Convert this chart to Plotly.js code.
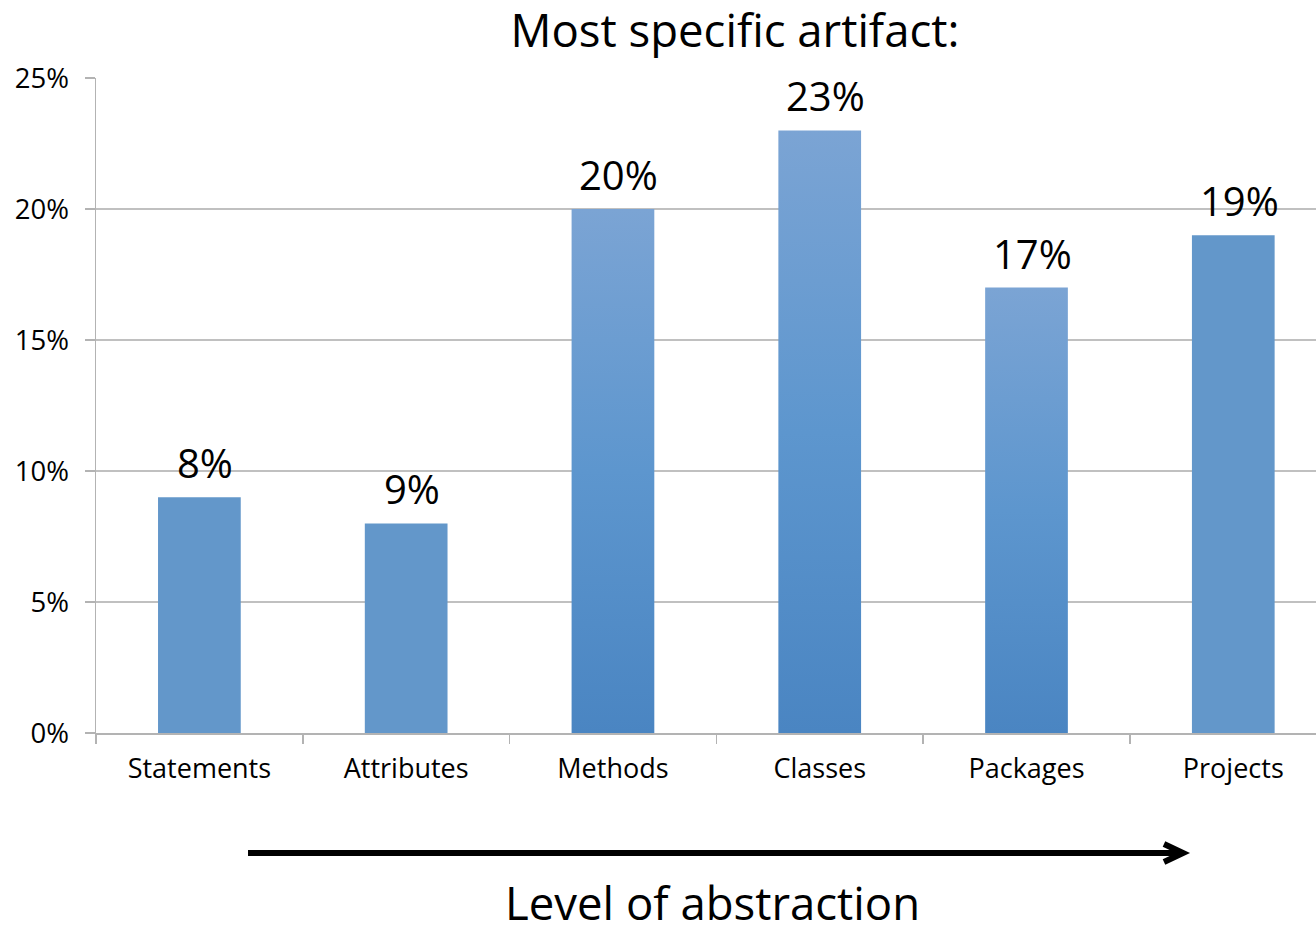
<!DOCTYPE html>
<html>
<head>
<meta charset="utf-8">
<script src="https://cdn.plot.ly/plotly-3.0.1.min.js"></script>
<style>html,body{margin:0;padding:0;background:#fff;}#chart{width:1316px;height:925px;}</style>
</head>
<body>
<div id="chart"></div>
<script>
// Data
const categories = ["Statements", "Attributes", "Methods", "Classes", "Packages", "Projects"];
const barValues = [9, 8, 20, 23, 17, 19];              // bar heights as drawn (%)
const barLabels = ["8%", "9%", "20%", "23%", "17%", "19%"]; // labels as printed
const gradientBars = [false, false, true, true, true, false];
const yTicks = [0, 5, 10, 15, 20, 25];

const FONT = "Open Sans, Noto Sans, sans-serif";
const flatColor = "#6397ca";

const trace = {
  type: "bar",
  x: categories,
  y: barValues,
  width: 0.4,
  marker: {color: flatColor, line: {width: 0}},
  hoverinfo: "skip"
};

const annotations = categories.map((c, i) => ({
  x: c, y: barValues[i], xref: "x", yref: "y",
  text: barLabels[i], showarrow: false,
  yanchor: "bottom", yshift: 5, xshift: 6,
  font: {family: FONT, size: 40, color: "#000"}
}));
annotations.push({
  xref: "paper", yref: "paper", x: 0.505, y: -0.258,
  text: "Level of abstraction", showarrow: false,
  xanchor: "center", yanchor: "middle",
  font: {family: FONT, size: 45.5, color: "#000"}
});

const shapes = [
  {type: "line", xref: "paper", yref: "paper", x0: 0.1246, x1: 0.8885, y0: -0.1832, y1: -0.1832,
   line: {color: "#000", width: 6}},
  {type: "path", xref: "paper", yref: "paper",
   path: "M 0.8754,-0.1695 L 0.891,-0.1832 L 0.8754,-0.197",
   line: {color: "#000", width: 6}}
];

const layout = {
  width: 1316, height: 925,
  margin: {l: 96, r: 0, t: 78, b: 192, pad: 0},
  paper_bgcolor: "#fff", plot_bgcolor: "#fff",
  showlegend: false,
  font: {family: FONT, color: "#000"},
  title: {
    text: "Most specific artifact:",
    xref: "container", yref: "container", x: 0.5585, y: 0.966,
    xanchor: "center", yanchor: "middle",
    font: {family: FONT, size: 45.5, color: "#000"}
  },
  xaxis: {
    type: "category",
    range: [-0.5, 5.4],
    tickson: "boundaries",
    ticks: "outside", ticklen: 9, tickwidth: 1.5, tickcolor: "#b3b3b3",
    showline: true, linecolor: "#b3b3b3", linewidth: 1.5,
    showgrid: false, zeroline: false,
    tickfont: {family: FONT, size: 27, color: "#000"},
    ticklabelstandoff: 11,
    fixedrange: true
  },
  yaxis: {
    range: [0, 25],
    tickvals: yTicks,
    ticktext: yTicks.map(v => v + "%"),
    ticks: "outside", ticklen: 10, tickwidth: 1.5, tickcolor: "#b3b3b3",
    showline: true, linecolor: "#b3b3b3", linewidth: 1.5,
    showgrid: true, gridcolor: "#c0c0c0", gridwidth: 1.5,
    zeroline: false,
    tickfont: {family: FONT, size: 27.5, color: "#000"},
    ticklabelstandoff: 10,
    fixedrange: true
  },
  annotations: annotations,
  shapes: shapes,
  bargap: 0.6
};

Plotly.newPlot("chart", [trace], layout, {staticPlot: true, displayModeBar: false}).then(gd => {
  const svg = gd.querySelector("svg.main-svg");
  let defs = svg.querySelector("defs");
  if (!defs) { defs = document.createElementNS("http://www.w3.org/2000/svg", "defs"); svg.insertBefore(defs, svg.firstChild); }
  const ns = "http://www.w3.org/2000/svg";
  const grad = document.createElementNS(ns, "linearGradient");
  grad.setAttribute("id", "barGrad");
  grad.setAttribute("x1", "0"); grad.setAttribute("y1", "0");
  grad.setAttribute("x2", "0"); grad.setAttribute("y2", "1");
  [["0", "#7ba4d4"], ["0.5", "#5d96ce"], ["1", "#4a85c2"]].forEach(([o, c]) => {
    const s = document.createElementNS(ns, "stop");
    s.setAttribute("offset", o); s.setAttribute("stop-color", c);
    grad.appendChild(s);
  });
  defs.appendChild(grad);
  const paths = gd.querySelectorAll(".trace.bars .point path");
  paths.forEach((p, i) => { if (gradientBars[i]) p.style.fill = "url(#barGrad)"; });
});
</script>
</body>
</html>
